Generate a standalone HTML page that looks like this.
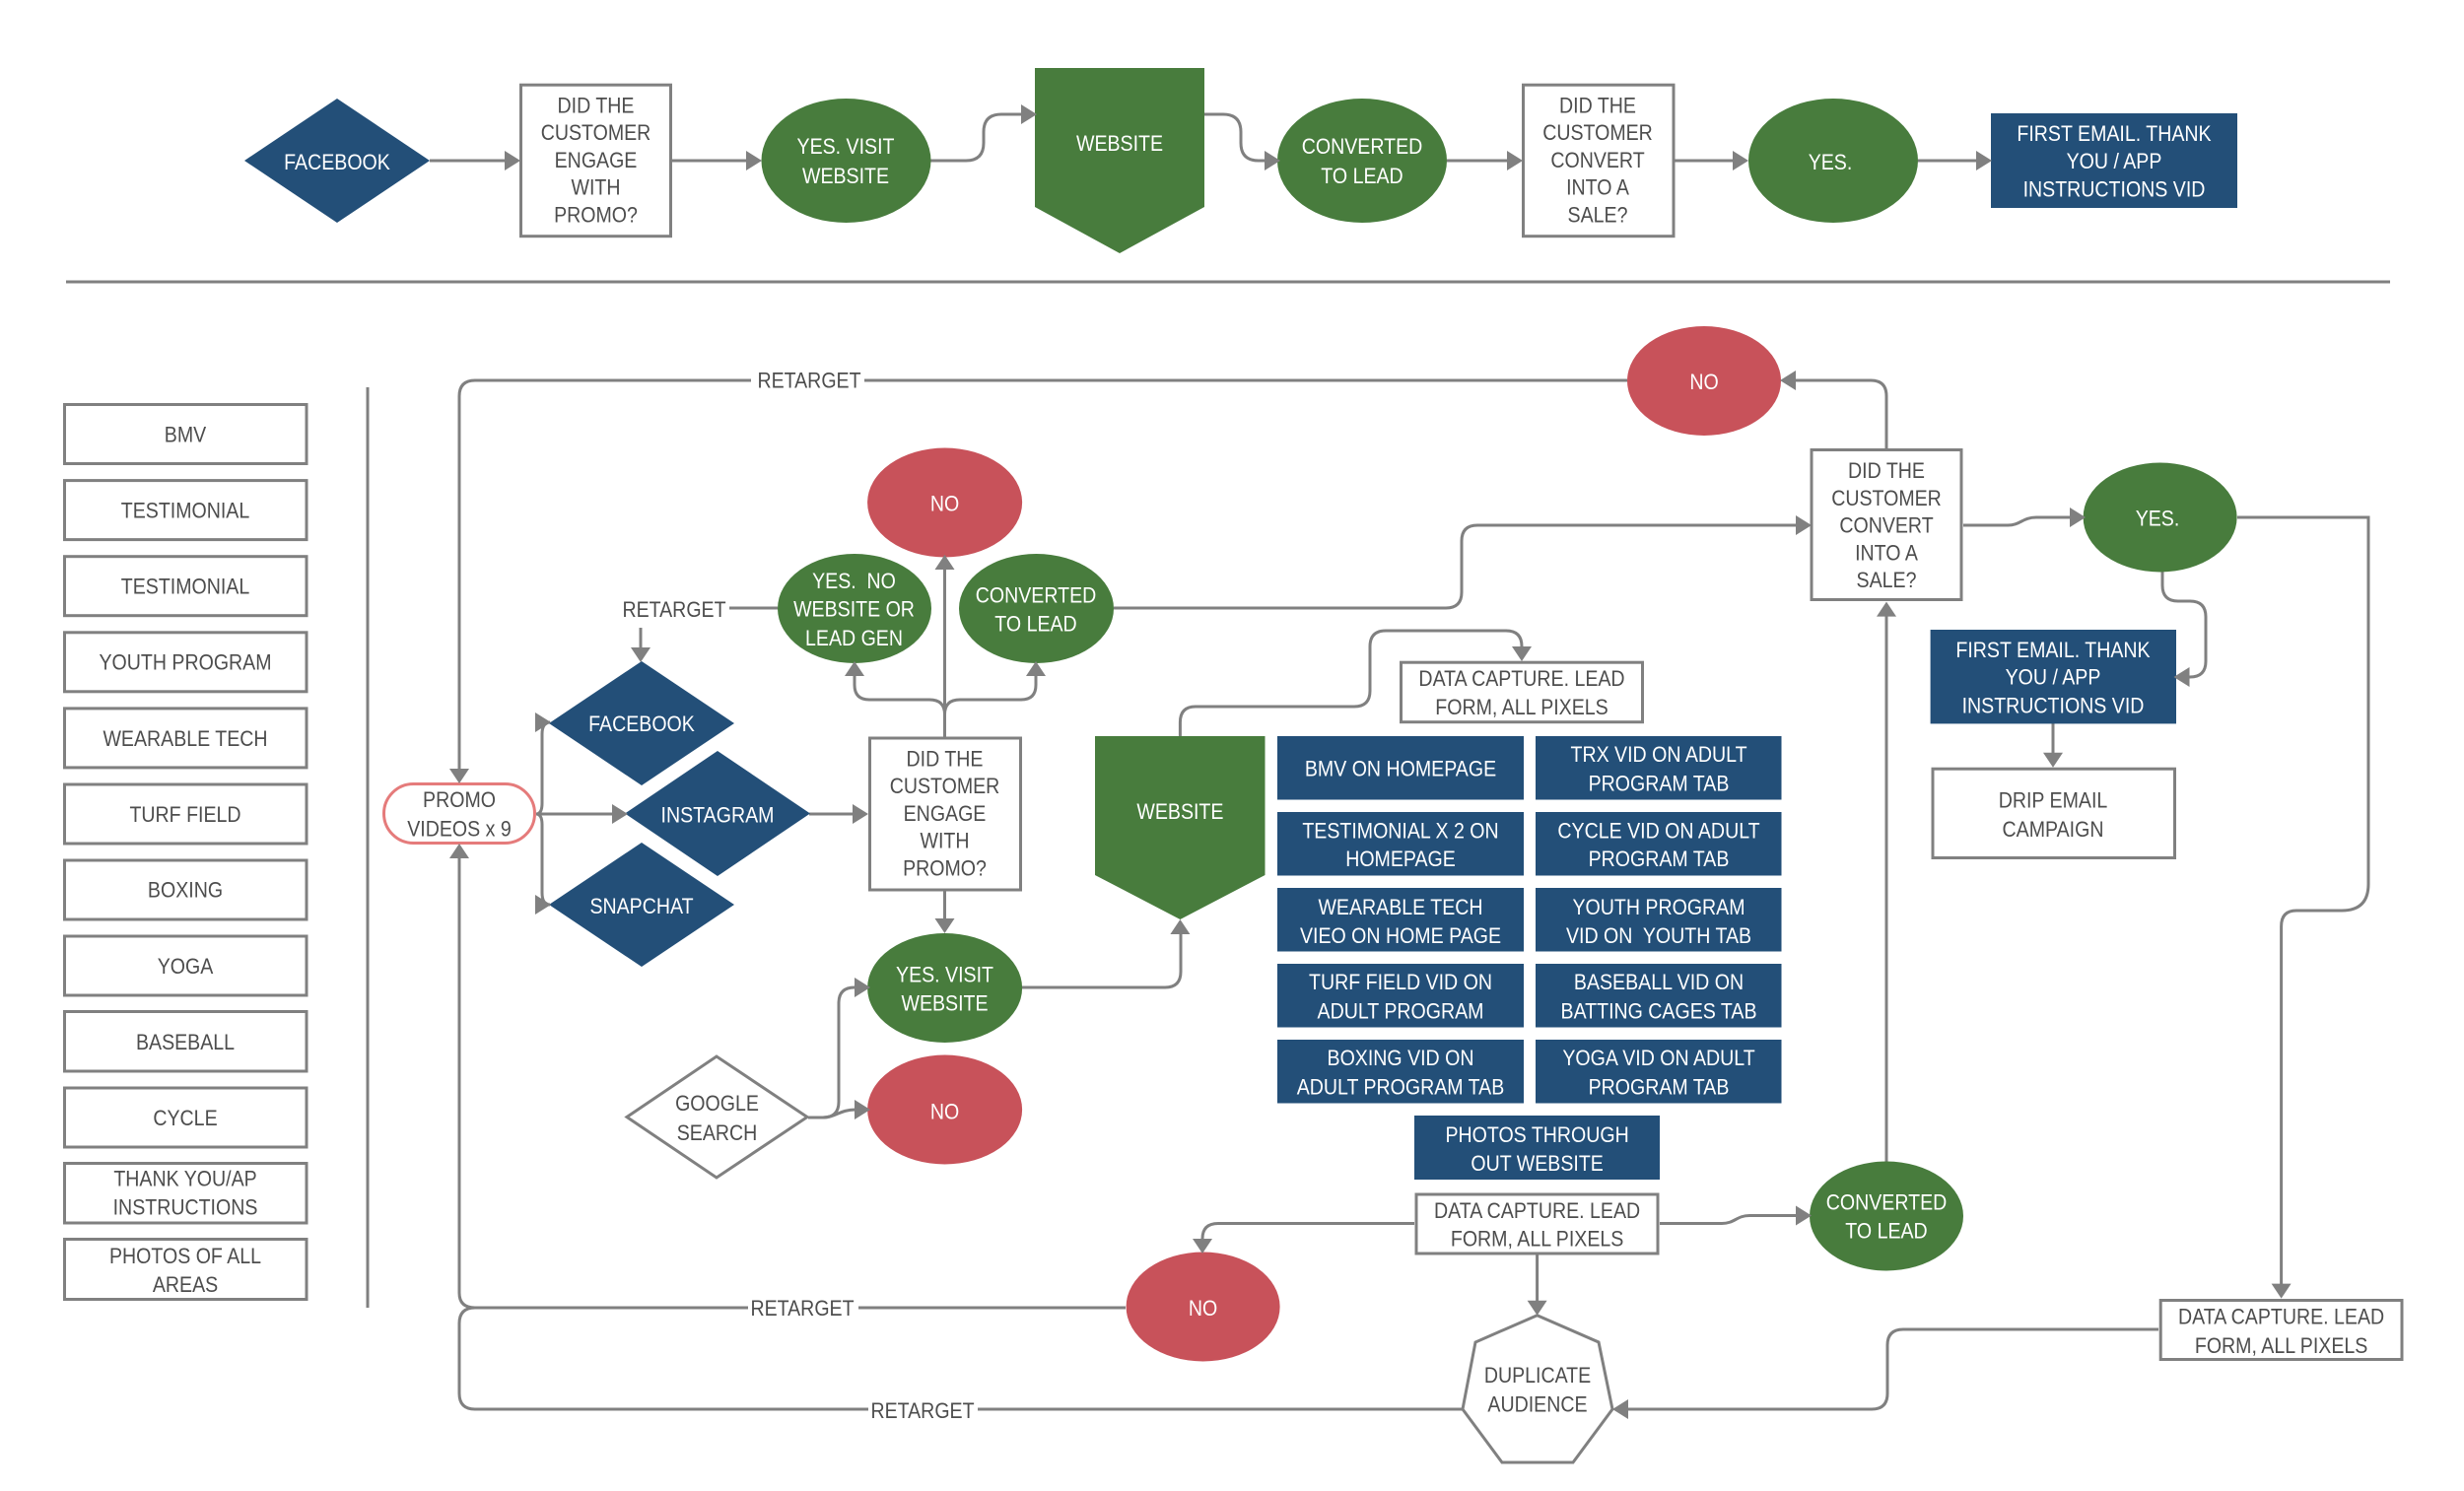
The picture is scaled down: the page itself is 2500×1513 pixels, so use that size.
<!DOCTYPE html>
<html><head><meta charset="utf-8"><style>
html,body{margin:0;padding:0;background:#fff}
svg{display:block}
text{font-family:"Liberation Sans",sans-serif;font-size:22px;text-anchor:middle}
.d{fill:#4d4d4d}.w{fill:#fff}
.b{fill:#fff;stroke:#808080;stroke-width:3}
.l{fill:none;stroke:#808080;stroke-width:3}
.bl{fill:#234f78}.g{fill:#487c3d}.r{fill:#c8525a}.a{fill:#808080}
</style></head><body>
<svg xmlns="http://www.w3.org/2000/svg" width="2500" height="1513" viewBox="0 0 2500 1513">
<rect width="2500" height="1513" fill="#fff"/>
<!-- lines -->
<g class="l">
<path d="M67 286H2425"/>
<path d="M373 393V1327"/>
<path d="M436 163H514M682 163H760"/>
<path d="M944 163H980Q998 163 998 145V134Q998 116 1016 116H1040"/>
<path d="M1222 116H1241Q1259 116 1259 134V145Q1259 163 1277 163H1285"/>
<path d="M1468 163H1530M1699 163H1760M1946 163H2006"/>
<path d="M1651 386H877M762 386H482Q466 386 466 402V782"/>
<path d="M466 870V1312Q466 1327 482 1327H759M871 1327H1142"/>
<path d="M482 1327Q466 1327 466 1343V1414Q466 1430 482 1430H881M992 1430H1484"/>
<path d="M544 826H623M821 826H868"/>
<path d="M544 826Q550 826 550 815V745Q550 733 558 733"/>
<path d="M544 826Q550 826 550 837V906Q550 918 558 918"/>
<path d="M740 617H789M650 637V660"/>
<path d="M958.5 749V578"/>
<path d="M958.5 725Q958.5 710 943 710H882Q867 710 867 695V685"/>
<path d="M958.5 725Q958.5 710 974 710H1036Q1051 710 1051 695V685"/>
<path d="M958.5 904V935"/>
<path d="M1037 1002H1182Q1198 1002 1198 986V948"/>
<path d="M820 1134H835Q851 1134 851 1118V1018Q851 1002 867 1002H870"/>
<path d="M820 1134H835C848 1134 852 1126 868 1126H870"/>
<path d="M1130 617H1467Q1483 617 1483 601V549Q1483 533 1499 533H1825"/>
<path d="M1197.4 747V733Q1197.4 717 1213 717H1374Q1390 717 1390 701V656Q1390 640 1406 640H1528Q1544 640 1544 656V660"/>
<path d="M1914 455V402Q1914 386 1898 386H1820"/>
<path d="M1914 1179V624"/>
<path d="M1992 533H2037C2050 533 2052 525 2066 525H2104"/>
<path d="M2270 525H2403V897Q2403 924 2376 924H2330Q2314.6 924 2314.6 940V1305"/>
<path d="M2194 578V594Q2194 610 2210 610H2222Q2238 610 2238 626V671Q2238 687 2222 687H2218"/>
<path d="M2083 734V767"/>
<path d="M2190 1349H1931Q1915 1349 1915 1365V1414Q1915 1430 1899 1430H1648"/>
<path d="M1559.6 1273V1322"/>
<path d="M1435 1241.5H1236Q1220 1241.5 1220 1257V1260"/>
<path d="M1684 1241.5H1747C1760 1241.5 1762 1233.5 1775 1233.5H1825"/>
</g>
<!-- top row shapes -->
<polygon class="bl" points="248,163 342,100 436,163 342,226"/>
<rect class="b" x="528.5" y="86.2" width="152" height="153.5"/>
<ellipse class="g" cx="858.5" cy="163" rx="86" ry="63"/>
<polygon class="g" points="1050,69 1222,69 1222,210 1136,257 1050,210"/>
<ellipse class="g" cx="1382" cy="163" rx="86" ry="63"/>
<rect class="b" x="1545.5" y="86.2" width="152.5" height="153.5"/>
<ellipse class="g" cx="1860" cy="163" rx="86" ry="63"/>
<rect class="bl" x="2020" y="115" width="250" height="96"/>
<!-- left list -->
<g class="b">
<rect x="65.5" y="410.5" width="245.5" height="60"/>
<rect x="65.5" y="487.6" width="245.5" height="60"/>
<rect x="65.5" y="564.7" width="245.5" height="60"/>
<rect x="65.5" y="641.8" width="245.5" height="60"/>
<rect x="65.5" y="718.9" width="245.5" height="60"/>
<rect x="65.5" y="796" width="245.5" height="60"/>
<rect x="65.5" y="873" width="245.5" height="60"/>
<rect x="65.5" y="950" width="245.5" height="60"/>
<rect x="65.5" y="1026.5" width="245.5" height="60.5"/>
<rect x="65.5" y="1104" width="245.5" height="60"/>
<rect x="65.5" y="1180.5" width="245.5" height="60.5"/>
<rect x="65.5" y="1257.5" width="245.5" height="61"/>
</g>
<!-- main shapes -->
<rect x="389.5" y="795.5" width="153" height="60" rx="30" ry="30" fill="#fff" stroke="#e57b7b" stroke-width="3"/>
<polygon class="bl" points="557,734 651,671 745,734 651,797"/>
<polygon class="bl" points="634,825.5 728,762 822,825.5 728,889"/>
<polygon class="bl" points="557,918 651,855 745,918 651,981"/>
<rect class="b" x="882.5" y="749" width="153" height="154"/>
<ellipse class="r" cx="958.6" cy="510" rx="78.5" ry="55.5"/>
<ellipse class="g" cx="867" cy="617.5" rx="78" ry="55.5"/>
<ellipse class="g" cx="1051.5" cy="617.5" rx="78.5" ry="55.5"/>
<ellipse class="g" cx="958.6" cy="1002.5" rx="78.5" ry="55.5"/>
<ellipse class="r" cx="958.6" cy="1126" rx="78.5" ry="55.5"/>
<polygon class="b" points="636,1133.5 727,1072 819,1133.5 727,1195"/>
<polygon class="g" points="1111,747 1283.5,747 1283.5,888 1197.4,933 1111,888"/>
<rect class="b" x="1421.5" y="672.2" width="245" height="60.5"/>
<g class="bl">
<rect x="1296" y="747" width="250" height="64.5"/><rect x="1558" y="747" width="249.5" height="64.5"/>
<rect x="1296" y="824" width="250" height="64.5"/><rect x="1558" y="824" width="249.5" height="64.5"/>
<rect x="1296" y="901" width="250" height="64.5"/><rect x="1558" y="901" width="249.5" height="64.5"/>
<rect x="1296" y="978" width="250" height="64.5"/><rect x="1558" y="978" width="249.5" height="64.5"/>
<rect x="1296" y="1055" width="250" height="64.5"/><rect x="1558" y="1055" width="249.5" height="64.5"/>
<rect x="1435" y="1132" width="249" height="65"/>
</g>
<rect class="b" x="1437" y="1212" width="245" height="60"/>
<ellipse class="r" cx="1220.6" cy="1326" rx="78" ry="55.5"/>
<polygon class="b" points="1559.6,1334.7 1622,1362 1636,1430 1596,1484 1524,1484 1484,1430 1497,1362"/>
<ellipse class="g" cx="1914" cy="1234" rx="78" ry="55.5"/>
<rect class="b" x="1838" y="456.5" width="152" height="152"/>
<ellipse class="r" cx="1729" cy="386.5" rx="78" ry="55.5"/>
<ellipse class="g" cx="2191.6" cy="525" rx="78" ry="55.5"/>
<rect class="bl" x="1958.6" y="639" width="249.4" height="95.4"/>
<rect class="b" x="1961" y="780.2" width="245.5" height="90.3"/>
<rect class="b" x="2192.2" y="1319.5" width="244.8" height="60"/>
<!-- arrowheads -->
<g class="a">
<polygon points="528,163 512,153 512,173"/><polygon points="773,163 757,153 757,173"/>
<polygon points="1052,116 1036,106 1036,126"/><polygon points="1299,163 1283,153 1283,173"/>
<polygon points="1545,163 1529,153 1529,173"/><polygon points="1774,163 1758,153 1758,173"/>
<polygon points="2021,163 2005,153 2005,173"/>
<polygon points="559,733 543,723 543,743"/><polygon points="559,918 543,908 543,928"/>
<polygon points="637,826 621,816 621,836"/><polygon points="881,826 865,816 865,836"/>
<polygon points="883,1002 867,992 867,1012"/><polygon points="883,1126 867,1116 867,1136"/>
<polygon points="1838,533 1822,523 1822,543"/><polygon points="2116,525 2100,515 2100,535"/>
<polygon points="1838,1233.5 1822,1223.5 1822,1243.5"/>
<polygon points="1806,386 1822,376 1822,396"/><polygon points="2205.5,687 2221.5,677 2221.5,697"/>
<polygon points="1636,1430 1652,1420 1652,1440"/>
<polygon points="466,795 456,780 476,780"/><polygon points="650,672 640,657 660,657"/>
<polygon points="1544,671 1534,656 1554,656"/><polygon points="1220,1272 1210,1257 1230,1257"/>
<polygon points="1559.6,1334.7 1549.6,1319.7 1569.6,1319.7"/><polygon points="2083,778.7 2073,763.7 2093,763.7"/>
<polygon points="2314.6,1317.6 2304.6,1302.6 2324.6,1302.6"/><polygon points="958.5,947 948.5,932 968.5,932"/>
<polygon points="466,856 456,871 476,871"/><polygon points="958.5,563 948.5,578 968.5,578"/>
<polygon points="867,671 857,686 877,686"/><polygon points="1051,671 1041,686 1061,686"/>
<polygon points="1197.4,933 1187.4,948 1207.4,948"/><polygon points="1914,610.6 1904,625.6 1924,625.6"/>
</g>
<!-- dark labels -->
<g class="d">
<text transform="translate(604.5,114.5) scale(.89,1)"><tspan x="0">DID THE</tspan><tspan x="0" dy="27.7">CUSTOMER</tspan><tspan x="0" dy="27.7">ENGAGE</tspan><tspan x="0" dy="27.7">WITH</tspan><tspan x="0" dy="27.7">PROMO?</tspan></text>
<text transform="translate(1621,114.5) scale(.89,1)"><tspan x="0">DID THE</tspan><tspan x="0" dy="27.7">CUSTOMER</tspan><tspan x="0" dy="27.7">CONVERT</tspan><tspan x="0" dy="27.7">INTO A</tspan><tspan x="0" dy="27.7">SALE?</tspan></text>
<text transform="translate(188,448.5) scale(.89,1)">BMV</text>
<text transform="translate(188,525.5) scale(.89,1)">TESTIMONIAL</text>
<text transform="translate(188,602.5) scale(.89,1)">TESTIMONIAL</text>
<text transform="translate(188,679.5) scale(.89,1)">YOUTH PROGRAM</text>
<text transform="translate(188,757) scale(.89,1)">WEARABLE TECH</text>
<text transform="translate(188,834) scale(.89,1)">TURF FIELD</text>
<text transform="translate(188,910.5) scale(.89,1)">BOXING</text>
<text transform="translate(188,988) scale(.89,1)">YOGA</text>
<text transform="translate(188,1065) scale(.89,1)">BASEBALL</text>
<text transform="translate(188,1142) scale(.89,1)">CYCLE</text>
<text transform="translate(188,1203.5) scale(.89,1)"><tspan x="0">THANK YOU/AP</tspan><tspan x="0" dy="29">INSTRUCTIONS</tspan></text>
<text transform="translate(188,1282) scale(.89,1)"><tspan x="0">PHOTOS OF ALL</tspan><tspan x="0" dy="29">AREAS</tspan></text>
<text transform="translate(466,819) scale(.89,1)"><tspan x="0">PROMO</tspan><tspan x="0" dy="29.5">VIDEOS x 9</tspan></text>
<text transform="translate(821,393.5) scale(.89,1)">RETARGET</text>
<text transform="translate(684,626) scale(.89,1)">RETARGET</text>
<text transform="translate(814,1335) scale(.89,1)">RETARGET</text>
<text transform="translate(936,1439) scale(.89,1)">RETARGET</text>
<text transform="translate(958.5,777.5) scale(.89,1)"><tspan x="0">DID THE</tspan><tspan x="0" dy="27.7">CUSTOMER</tspan><tspan x="0" dy="27.7">ENGAGE</tspan><tspan x="0" dy="27.7">WITH</tspan><tspan x="0" dy="27.7">PROMO?</tspan></text>
<text transform="translate(727.5,1127) scale(.89,1)"><tspan x="0">GOOGLE</tspan><tspan x="0" dy="30">SEARCH</tspan></text>
<text transform="translate(1544,696) scale(.89,1)"><tspan x="0">DATA CAPTURE. LEAD</tspan><tspan x="0" dy="29">FORM, ALL PIXELS</tspan></text>
<text transform="translate(1559.6,1236) scale(.89,1)"><tspan x="0">DATA CAPTURE. LEAD</tspan><tspan x="0" dy="28.5">FORM, ALL PIXELS</tspan></text>
<text transform="translate(1560,1403) scale(.89,1)"><tspan x="0">DUPLICATE</tspan><tspan x="0" dy="29.5">AUDIENCE</tspan></text>
<text transform="translate(1914,485) scale(.89,1)"><tspan x="0">DID THE</tspan><tspan x="0" dy="27.8">CUSTOMER</tspan><tspan x="0" dy="27.8">CONVERT</tspan><tspan x="0" dy="27.8">INTO A</tspan><tspan x="0" dy="27.8">SALE?</tspan></text>
<text transform="translate(2083,819.5) scale(.89,1)"><tspan x="0">DRIP EMAIL</tspan><tspan x="0" dy="29.5">CAMPAIGN</tspan></text>
<text transform="translate(2314.6,1343.5) scale(.89,1)"><tspan x="0">DATA CAPTURE. LEAD</tspan><tspan x="0" dy="29.5">FORM, ALL PIXELS</tspan></text>
</g>
<!-- white labels -->
<g class="w">
<text transform="translate(342,172) scale(.89,1)">FACEBOOK</text>
<text transform="translate(858,156) scale(.89,1)"><tspan x="0">YES. VISIT</tspan><tspan x="0" dy="30">WEBSITE</tspan></text>
<text transform="translate(1136,153) scale(.89,1)">WEBSITE</text>
<text transform="translate(1382,156) scale(.89,1)"><tspan x="0">CONVERTED</tspan><tspan x="0" dy="30">TO LEAD</tspan></text>
<text transform="translate(1857,172) scale(.89,1)">YES.</text>
<text transform="translate(2145,143) scale(.89,1)"><tspan x="0">FIRST EMAIL. THANK</tspan><tspan x="0" dy="28">YOU / APP</tspan><tspan x="0" dy="28.5">INSTRUCTIONS VID</tspan></text>
<text transform="translate(651,742) scale(.89,1)">FACEBOOK</text>
<text transform="translate(728,834.5) scale(.89,1)">INSTAGRAM</text>
<text transform="translate(651,927) scale(.89,1)">SNAPCHAT</text>
<text transform="translate(958.5,518.5) scale(.89,1)">NO</text>
<text transform="translate(866.5,597) scale(.89,1)"><tspan x="0" xml:space="preserve">YES.  NO</tspan><tspan x="0" dy="28.5">WEBSITE OR</tspan><tspan x="0" dy="29.5">LEAD GEN</tspan></text>
<text transform="translate(1051,611.5) scale(.89,1)"><tspan x="0">CONVERTED</tspan><tspan x="0" dy="29">TO LEAD</tspan></text>
<text transform="translate(958.5,996.5) scale(.89,1)"><tspan x="0">YES. VISIT</tspan><tspan x="0" dy="29">WEBSITE</tspan></text>
<text transform="translate(958.5,1135.5) scale(.89,1)">NO</text>
<text transform="translate(1197.4,831) scale(.89,1)">WEBSITE</text>
<text transform="translate(1421,787.5) scale(.89,1)">BMV ON HOMEPAGE</text>
<text transform="translate(1683,773) scale(.89,1)"><tspan x="0">TRX VID ON ADULT</tspan><tspan x="0" dy="29.5">PROGRAM TAB</tspan></text>
<text transform="translate(1421,850.5) scale(.89,1)"><tspan x="0">TESTIMONIAL X 2 ON</tspan><tspan x="0" dy="28.5">HOMEPAGE</tspan></text>
<text transform="translate(1683,850.5) scale(.89,1)"><tspan x="0">CYCLE VID ON ADULT</tspan><tspan x="0" dy="28.5">PROGRAM TAB</tspan></text>
<text transform="translate(1421,928) scale(.89,1)"><tspan x="0">WEARABLE TECH</tspan><tspan x="0" dy="29">VIEO ON HOME PAGE</tspan></text>
<text transform="translate(1683,928) scale(.89,1)"><tspan x="0">YOUTH PROGRAM</tspan><tspan x="0" dy="29" xml:space="preserve">VID ON  YOUTH TAB</tspan></text>
<text transform="translate(1421,1004) scale(.89,1)"><tspan x="0">TURF FIELD VID ON</tspan><tspan x="0" dy="29.5">ADULT PROGRAM</tspan></text>
<text transform="translate(1683,1004) scale(.89,1)"><tspan x="0">BASEBALL VID ON</tspan><tspan x="0" dy="29.5">BATTING CAGES TAB</tspan></text>
<text transform="translate(1421,1081) scale(.89,1)"><tspan x="0">BOXING VID ON</tspan><tspan x="0" dy="29.5">ADULT PROGRAM TAB</tspan></text>
<text transform="translate(1683,1081) scale(.89,1)"><tspan x="0">YOGA VID ON ADULT</tspan><tspan x="0" dy="29.5">PROGRAM TAB</tspan></text>
<text transform="translate(1559.6,1159) scale(.89,1)"><tspan x="0">PHOTOS THROUGH</tspan><tspan x="0" dy="29">OUT WEBSITE</tspan></text>
<text transform="translate(1220.6,1335) scale(.89,1)">NO</text>
<text transform="translate(1914,1227.5) scale(.89,1)"><tspan x="0">CONVERTED</tspan><tspan x="0" dy="29">TO LEAD</tspan></text>
<text transform="translate(1729,395) scale(.89,1)">NO</text>
<text transform="translate(2189,533.5) scale(.89,1)">YES.</text>
<text transform="translate(2083,667) scale(.89,1)"><tspan x="0">FIRST EMAIL. THANK</tspan><tspan x="0" dy="27.5">YOU / APP</tspan><tspan x="0" dy="29">INSTRUCTIONS VID</tspan></text>
</g>
</svg>
</body></html>
